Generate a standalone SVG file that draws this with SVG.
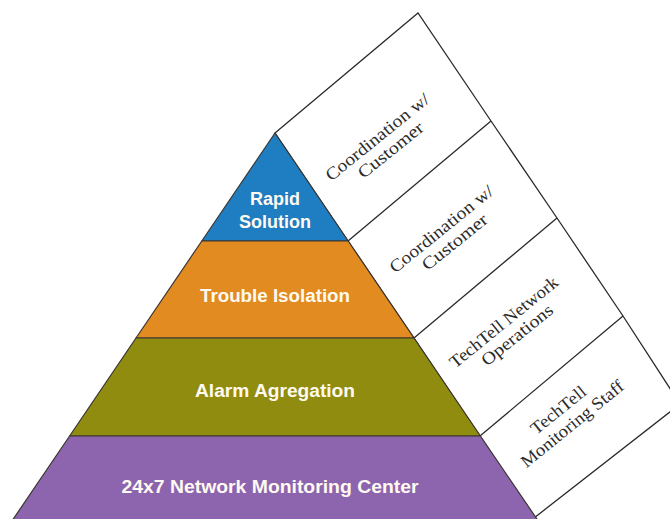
<svg xmlns="http://www.w3.org/2000/svg" width="670" height="519" viewBox="0 0 670 519">
  <style>
    .band { stroke: #3a3530; stroke-width: 1.2; stroke-linejoin: round; }
    .tier { font-family: "Liberation Sans", Arial, sans-serif; font-weight: bold; font-size: 18px; fill: #fffaf0; text-anchor: middle; }
    .strip { fill: #ffffff; stroke: #2a2a2a; stroke-width: 1.3; stroke-linejoin: miter; }
    .role { font-family: "Liberation Serif", "Times New Roman", serif; font-size: 17.5px; fill: #2b2b2b; text-anchor: middle; }
  </style>
  <rect width="670" height="519" fill="#ffffff"/>

  <!-- side strip of responsibility boxes along the right flank -->
  <g id="role-strip">
    <polygon class="strip" points="275,133 418,13 491,121 557,218 623,316 680,404 534,518 480,436 414,338 348,241"/>
  </g>
  <g id="connectors">
    <line class="strip" x1="348" y1="241" x2="491" y2="121"/>
    <line class="strip" x1="414" y1="338" x2="557" y2="218"/>
    <line class="strip" x1="480" y1="436" x2="623" y2="316"/>
  </g>

  <g id="role-1">
    <text class="role" transform="translate(382.6,140.1) rotate(-39)">
      <tspan x="0" y="0" textLength="128" lengthAdjust="spacingAndGlyphs">Coordination w/</tspan>
      <tspan x="0" y="18.5" textLength="79" lengthAdjust="spacingAndGlyphs">Customer</tspan>
    </text>
  </g>
  <g id="role-2">
    <text class="role" transform="translate(446.6,232.1) rotate(-39)">
      <tspan x="0" y="0" textLength="128" lengthAdjust="spacingAndGlyphs">Coordination w/</tspan>
      <tspan x="0" y="18.5" textLength="79" lengthAdjust="spacingAndGlyphs">Customer</tspan>
    </text>
  </g>
  <g id="role-3">
    <text class="role" transform="translate(509.1,325.1) rotate(-39)">
      <tspan x="0" y="0" textLength="134" lengthAdjust="spacingAndGlyphs">TechTell Network</tspan>
      <tspan x="0" y="18.5" textLength="87" lengthAdjust="spacingAndGlyphs">Operations</tspan>
    </text>
  </g>
  <g id="role-4">
    <text class="role" transform="translate(563.6,413.1) rotate(-39)">
      <tspan x="0" y="0" textLength="66" lengthAdjust="spacingAndGlyphs">TechTell</tspan>
      <tspan x="0" y="19.5" textLength="127" lengthAdjust="spacingAndGlyphs">Monitoring Staff</tspan>
    </text>
  </g>

  <!-- pyramid tiers, top to bottom -->
  <g id="tier-rapid-solution">
    <polygon class="band" fill="#1f7dc1" points="275,133 348.2,241 201.8,241"/>
    <text class="tier" x="275" y="205" textLength="50" lengthAdjust="spacingAndGlyphs">Rapid</text>
    <text class="tier" x="275" y="228" textLength="72" lengthAdjust="spacingAndGlyphs">Solution</text>
  </g>
  <g id="tier-trouble-isolation">
    <polygon class="band" fill="#e28b20" points="201.8,241 348.2,241 414,338 136,338"/>
    <text class="tier" x="275" y="302" textLength="150" lengthAdjust="spacingAndGlyphs">Trouble Isolation</text>
  </g>
  <g id="tier-alarm-agregation">
    <polygon class="band" fill="#8f8c10" points="136,338 414,338 480.4,436 69.6,436"/>
    <text class="tier" x="275" y="397" textLength="160" lengthAdjust="spacingAndGlyphs">Alarm Agregation</text>
  </g>
  <g id="tier-monitoring-center">
    <polygon class="band" fill="#8d65af" points="69.6,436 480.4,436 541,525 9.2,525"/>
    <text class="tier" x="270" y="493" textLength="297" lengthAdjust="spacingAndGlyphs">24x7 Network Monitoring Center</text>
  </g>
</svg>
